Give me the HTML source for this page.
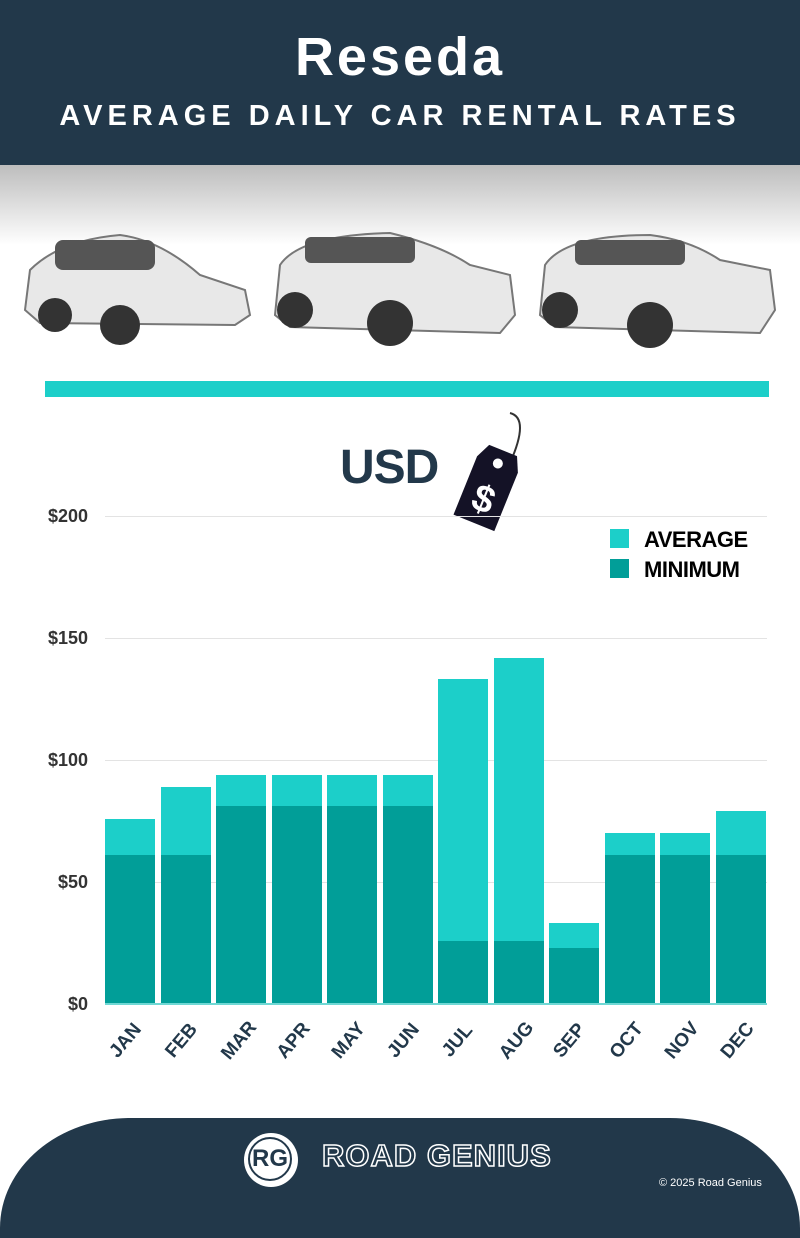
<!DOCTYPE html>
<html><head><meta charset="utf-8"><style>
body{margin:0;width:800px;height:1200px;overflow:hidden;background:#fff;font-family:"Liberation Sans",sans-serif;position:relative}
.hdr{position:absolute;left:0;top:0;width:800px;height:165px;background:#22384a;color:#fff;text-align:center}
.t1{position:absolute;top:26px;width:100%;font-size:54px;font-weight:bold;letter-spacing:3px}
.t2{position:absolute;top:100px;width:100%;font-size:29px;font-weight:bold;letter-spacing:5px}
.grad{position:absolute;left:0;top:165px;width:800px;height:80px;background:linear-gradient(#bdbdbd,#fff)}
.bar{position:absolute;left:45px;top:381px;width:724px;height:16px;background:#1ccfc9}
.ax{position:absolute;font-weight:bold;font-size:18px;color:#333;right:712px;text-align:right}
.gl{position:absolute;left:105px;width:662px;height:1px;background:#e3e3e3}
.b{position:absolute;width:50px}
.m{position:absolute;font-weight:bold;font-size:19px;color:#22384a;transform:rotate(-50deg);transform-origin:center}
.foot{position:absolute;left:0;top:1118px;width:800px;height:120px;background:#22384a;border-radius:130px 130px 0 0/110px 110px 0 0}
</style></head><body>
<div class="hdr"><div class="t1">Reseda</div><div class="t2">AVERAGE DAILY CAR RENTAL RATES</div></div>
<div class="grad"></div>
<svg style="position:absolute;left:0;top:215px" width="800" height="140">
<g fill="#e8e8e8" stroke="#777" stroke-width="2">
<path d="M25 95 L30 55 Q60 25 120 20 Q160 25 200 60 L245 75 L250 100 L235 110 L40 108Z"/>
<path d="M275 100 L280 50 Q300 20 390 18 Q440 30 470 50 L510 60 L515 100 L500 118 L290 112Z"/>
<path d="M540 100 L545 50 Q565 20 650 20 Q690 25 720 45 L770 55 L775 95 L760 118 L555 112Z"/>
</g>
<g fill="#333"><circle cx="55" cy="100" r="17"/><circle cx="120" cy="110" r="20"/><circle cx="295" cy="95" r="18"/><circle cx="390" cy="108" r="23"/><circle cx="560" cy="95" r="18"/><circle cx="650" cy="110" r="23"/></g>
<g fill="#555"><rect x="55" y="25" width="100" height="30" rx="8"/><rect x="305" y="22" width="110" height="26" rx="6"/><rect x="575" y="25" width="110" height="25" rx="6"/></g>
</svg>
<div class="bar"></div>
<div style="position:absolute;left:340px;top:440px;font-size:48px;font-weight:bold;color:#22384a;letter-spacing:-1px">USD</div>
<svg style="position:absolute;left:440px;top:408px" width="90" height="125"><path d="M70 5 Q90 10 70 55" stroke="#333" fill="none" stroke-width="2"/><g transform="rotate(22 50 75)"><path d="M35 40 L65 40 L72 55 L72 118 L28 118 L28 55Z" fill="#141226"/><circle cx="50" cy="54" r="5" fill="#fff"/><text x="50" y="105" font-size="38" font-weight="bold" fill="#fff" text-anchor="middle">$</text></g></svg>
<div class="gl" style="top:516px"></div><div class="gl" style="top:638px"></div><div class="gl" style="top:760px"></div><div class="gl" style="top:882px"></div>
<div class="ax" style="top:506px">$200</div><div class="ax" style="top:628px">$150</div><div class="ax" style="top:750px">$100</div><div class="ax" style="top:872px">$50</div><div class="ax" style="top:994px">$0</div>
<div style="position:absolute;left:610px;top:529px;width:19px;height:19px;background:#1ccfc9"></div>
<div style="position:absolute;left:610px;top:559px;width:19px;height:19px;background:#019e98"></div>
<div style="position:absolute;left:644px;top:527px;font-size:22px;font-weight:bold;letter-spacing:-0.5px">AVERAGE</div>
<div style="position:absolute;left:644px;top:557px;font-size:22px;font-weight:bold;letter-spacing:-0.5px">MINIMUM</div>
<div id="c"></div>
<div style="position:absolute;left:105px;top:1003px;width:662px;height:2px;background:#6fd8d4"></div>
<div class="foot"></div>
<div style="position:absolute;left:244px;top:1133px;width:54px;height:54px;border-radius:50%;background:#fff"></div>
<div style="position:absolute;left:248px;top:1137px;width:44px;height:44px;border-radius:50%;border:2px solid #22384a;box-sizing:border-box;font-size:24px;font-weight:bold;color:#22384a;text-align:center;line-height:40px">RG</div>
<div style="position:absolute;left:322px;top:1138px;font-size:31px;font-weight:bold;color:#22384a;-webkit-text-stroke:1.5px #fff;letter-spacing:1px">ROAD GENIUS</div>
<div style="position:absolute;left:659px;top:1177px;font-size:11px;color:#fff">© 2025 Road Genius</div>
<script>
var av=[76,89,94,94,94,94,133,142,33,70,70,79],mn=[61,61,81,81,81,81,26,26,23,61,61,61],ms=["JAN","FEB","MAR","APR","MAY","JUN","JUL","AUG","SEP","OCT","NOV","DEC"],h="";
for(var i=0;i<12;i++){var x=105+i*55.5;
h+='<div class="b" style="left:'+x+'px;top:'+(1004-av[i]*2.44)+'px;height:'+(av[i]*2.44)+'px;background:#1ccfc9"></div>';
h+='<div class="b" style="left:'+x+'px;top:'+(1004-mn[i]*2.44)+'px;height:'+(mn[i]*2.44)+'px;background:#019e98"></div>';
h+='<div class="m" style="left:'+(x+2)+'px;top:1030px">'+ms[i]+'</div>';}
document.getElementById("c").innerHTML=h;
</script>
</body></html>
